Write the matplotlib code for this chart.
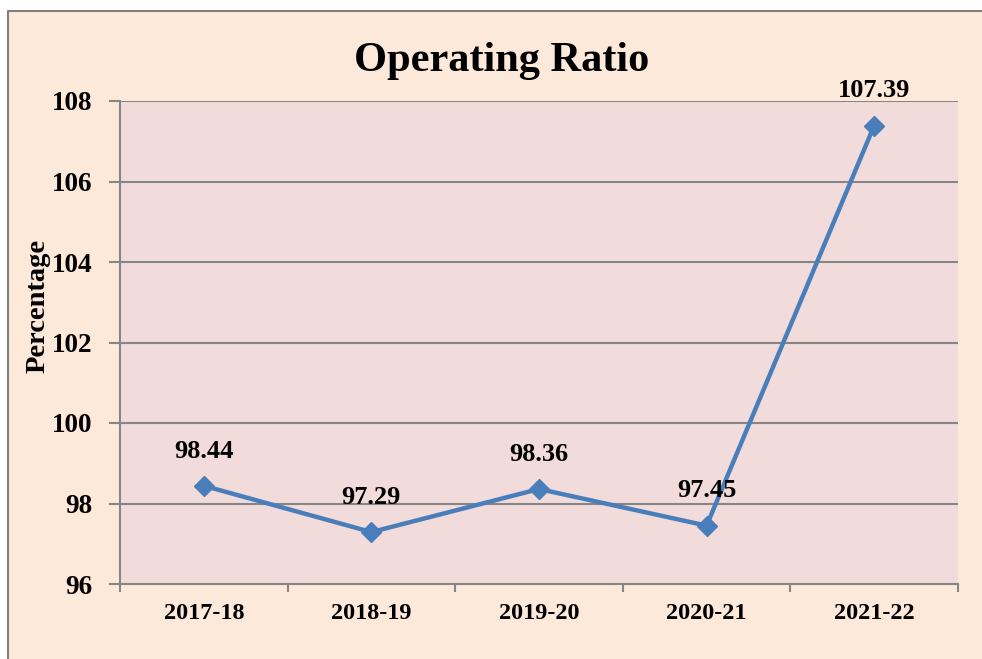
import matplotlib.pyplot as plt
from matplotlib.patches import Rectangle
from matplotlib.lines import Line2D
import numpy as np

# datos del grafico
years = ['2017-18', '2018-19', '2019-20', '2020-21', '2021-22']
ratio = [98.44, 97.29, 98.36, 97.45, 107.39]
yticks = [96, 98, 100, 102, 104, 106, 108]

plt.rcParams['font.family'] = ['Liberation Serif', 'DejaVu Serif']
plt.rcParams['font.weight'] = 'bold'

fig = plt.figure(figsize=(9.82, 6.59), dpi=100, facecolor='#FDE9DA')
# franjas blancas arriba e izquierda + borde gris (solo izquierda y arriba)
x0, y0 = 8/982, 1 - 11/659
fig.patches.append(Rectangle((0, 0), x0, 1, transform=fig.transFigure,
                             facecolor='white', edgecolor='none', zorder=-1))
fig.patches.append(Rectangle((0, y0), 1, 1 - y0, transform=fig.transFigure,
                             facecolor='white', edgecolor='none', zorder=-1))
fig.lines.append(Line2D([x0, x0, 1], [0, y0, y0], transform=fig.transFigure,
                        color='#7F7F7F', lw=1.5))

ax = fig.add_axes([120/982, 1 - 584/659, 838/982, 483/659])
ax.set_facecolor('#F2DCDB')

x = np.arange(len(years))
ax.plot(x, ratio, color='#4A7EBB', lw=3.2, marker='D', ms=10, zorder=3)

for xi, v in zip(x, ratio):
    ax.annotate(f'{v:.2f}', (xi, v), xytext=(0, 25), textcoords='offset points',
                ha='center', va='center', fontsize=19, fontweight='bold')

ax.set_xlim(-0.5, 4.5)
ax.set_ylim(96, 108)
ax.set_yticks(yticks)
ax.set_yticklabels([str(t) for t in yticks], fontsize=19.5, fontweight='bold')
ax.set_xticks(np.arange(-0.5, 5, 1))
ax.set_xticklabels([])
ax.set_xticks(x, minor=True)
ax.set_xticklabels(years, minor=True, fontsize=17.5, fontweight='bold')
ax.tick_params(axis='x', which='minor', length=0, pad=14)
ax.tick_params(axis='x', which='major', length=6, width=1.5, color='#868686', direction='out')
ax.tick_params(axis='y', length=8, width=1.5, color='#868686', pad=12)

ax.grid(True, axis='y', color='#868686', lw=1.5)
ax.set_axisbelow(True)
for s in ['top', 'right']:
    ax.spines[s].set_visible(False)
for s in ['left', 'bottom']:
    ax.spines[s].set_color('#868686')
    ax.spines[s].set_linewidth(1.5)

ax.set_ylabel('Percentage', fontsize=20.5, fontweight='bold', va='center')
ax.yaxis.set_label_coords(-0.098, 0.576)
fig.text(0.511, 1 - 61/659, 'Operating Ratio', ha='center', va='center',
         fontsize=30.5, fontweight='bold')

fig.savefig('out.png', dpi=100, facecolor=fig.get_facecolor())
